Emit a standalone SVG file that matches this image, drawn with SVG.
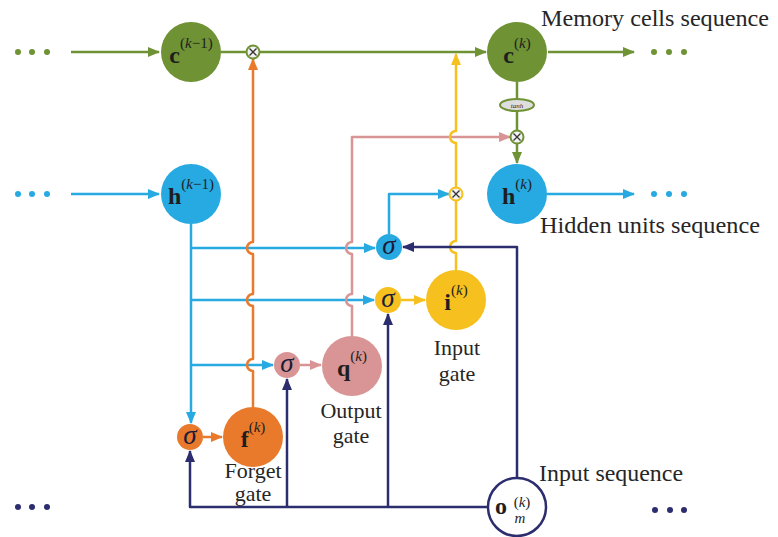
<svg xmlns="http://www.w3.org/2000/svg" width="778" height="537" viewBox="0 0 778 537">
<defs>
<style>
.ln{fill:none;stroke-width:2.5;stroke-linejoin:round}
.g{stroke:#6e9234}.cy{stroke:#27a9e1}.or{stroke:#e97a2c}.pk{stroke:#d99595}.ye{stroke:#f6c11e}.nv{stroke:#2b2d6e}
.lbl{font-family:"Liberation Serif","Times New Roman",serif;fill:#1e1e1e}
.cap{font-family:"Liberation Serif","Times New Roman",serif;font-size:22px;fill:#262626;text-anchor:middle}
.seq{font-family:"Liberation Serif","Times New Roman",serif;font-size:23px;fill:#262626}
.sig{font-family:"Liberation Serif","Times New Roman",serif;font-size:27px;font-style:italic;fill:#1c1c3a;text-anchor:middle}
.nm{font-size:24px;font-weight:bold}
.sup{font-size:15px}
.it{font-style:italic}
</style>
<marker id="aG" markerWidth="12" markerHeight="10" refX="11" refY="5" orient="auto" markerUnits="userSpaceOnUse"><path d="M0,0 L12,5 L0,10 z" fill="#6e9234"/></marker>
<marker id="aC" markerWidth="12" markerHeight="10" refX="11" refY="5" orient="auto" markerUnits="userSpaceOnUse"><path d="M0,0 L12,5 L0,10 z" fill="#27a9e1"/></marker>
<marker id="aO" markerWidth="12" markerHeight="10" refX="11" refY="5" orient="auto" markerUnits="userSpaceOnUse"><path d="M0,0 L12,5 L0,10 z" fill="#e97a2c"/></marker>
<marker id="aP" markerWidth="12" markerHeight="10" refX="11" refY="5" orient="auto" markerUnits="userSpaceOnUse"><path d="M0,0 L12,5 L0,10 z" fill="#d99595"/></marker>
<marker id="aY" markerWidth="12" markerHeight="10" refX="11" refY="5" orient="auto" markerUnits="userSpaceOnUse"><path d="M0,0 L12,5 L0,10 z" fill="#f6c11e"/></marker>
<marker id="aN" markerWidth="12" markerHeight="10" refX="11" refY="5" orient="auto" markerUnits="userSpaceOnUse"><path d="M0,0 L12,5 L0,10 z" fill="#2b2d6e"/></marker>
</defs>
<rect width="778" height="537" fill="#ffffff"/>

<g id="connectors">
<path class="ln g" d="M71,52 L159,52" marker-end="url(#aG)"/>
<path class="ln g" d="M221,52 L246,52"/>
<path class="ln g" d="M260,52 L486,52" marker-end="url(#aG)"/>
<path class="ln g" d="M548,52 L634,52" marker-end="url(#aG)"/>
<path class="ln g" d="M517,82 L517,99"/>
<path class="ln g" d="M517,111 L517,130"/>
<path class="ln g" d="M517,144 L517,163" marker-end="url(#aG)"/>
<path class="ln cy" d="M71,194 L159,194" marker-end="url(#aC)"/>
<path class="ln cy" d="M547,194 L634,194" marker-end="url(#aC)"/>
<path class="ln cy" d="M191,224 L191,423" marker-end="url(#aC)"/>
<path class="ln cy" d="M191,248 L375,248" marker-end="url(#aC)"/>
<path class="ln cy" d="M191,300 L374,300" marker-end="url(#aC)"/>
<path class="ln cy" d="M191,365 L273,365" marker-end="url(#aC)"/>
<path class="ln cy" d="M389,234 L389,194 L449,194" marker-end="url(#aC)"/>
<path class="ln or" d="M203,437 L222,437" marker-end="url(#aO)"/>
<path class="ln or" d="M253,407 L253,371 A6,6 0 0 1 253,359 L253,306 A6,6 0 0 1 253,294 L253,254 A6,6 0 0 1 253,242 L253,59" marker-end="url(#aO)"/>
<path class="ln pk" d="M300,365 L321,365" marker-end="url(#aP)"/>
<path class="ln pk" d="M352,336 L352,306 A6,6 0 0 1 352,294 L352,254 A6,6 0 0 1 352,242 L352,137 L510,137" marker-end="url(#aP)"/>
<path class="ln ye" d="M401,300 L425,300" marker-end="url(#aY)"/>
<path class="ln ye" d="M456,270 L456,253 A6,6 0 0 1 456,241 L456,143 A6,6 0 0 1 456,131 L456,54" marker-end="url(#aY)"/>
<path class="ln nv" d="M488,507 L190,507 L190,451" marker-end="url(#aN)"/>
<path class="ln nv" d="M287,507 L287,379" marker-end="url(#aN)"/>
<path class="ln nv" d="M388,507 L388,314" marker-end="url(#aN)"/>
<path class="ln nv" d="M517,477 L517,247 L403,247" marker-end="url(#aN)"/>
</g>

<g id="dots">
<circle cx="18" cy="52" r="3" fill="#6e9234"/><circle cx="32" cy="52" r="3" fill="#6e9234"/><circle cx="47" cy="52" r="3" fill="#6e9234"/>
<circle cx="654" cy="52" r="3" fill="#6e9234"/><circle cx="669" cy="52" r="3" fill="#6e9234"/><circle cx="684" cy="52" r="3" fill="#6e9234"/>
<circle cx="18" cy="194" r="3" fill="#27a9e1"/><circle cx="32" cy="194" r="3" fill="#27a9e1"/><circle cx="47" cy="194" r="3" fill="#27a9e1"/>
<circle cx="654" cy="194" r="3" fill="#27a9e1"/><circle cx="669" cy="194" r="3" fill="#27a9e1"/><circle cx="684" cy="194" r="3" fill="#27a9e1"/>
<circle cx="18" cy="507" r="3" fill="#2b2d6e"/><circle cx="32" cy="507" r="3" fill="#2b2d6e"/><circle cx="47" cy="507" r="3" fill="#2b2d6e"/>
<circle cx="655" cy="510" r="3" fill="#2b2d6e"/><circle cx="670" cy="510" r="3" fill="#2b2d6e"/><circle cx="684" cy="510" r="3" fill="#2b2d6e"/>
</g>

<g id="c_prev">
<circle cx="191" cy="52" r="30" fill="#6e9234"/>
<text class="lbl" x="191" y="63" text-anchor="middle"><tspan class="nm">c</tspan><tspan class="sup" dy="-15">(<tspan class="it">k</tspan>−1)</tspan></text>
</g>
<g id="c_cur">
<circle cx="517" cy="52" r="30" fill="#6e9234"/>
<text class="lbl" x="517" y="63" text-anchor="middle"><tspan class="nm">c</tspan><tspan class="sup" dy="-15">(<tspan class="it">k</tspan>)</tspan></text>
</g>
<g id="mult_forget">
<circle cx="253" cy="52" r="6.5" fill="#f2f2f2" stroke="#6e9234" stroke-width="2"/>
<path d="M249.5,48.5 L256.5,55.5 M256.5,48.5 L249.5,55.5" stroke="#333" stroke-width="1.3"/>
</g>
<g id="tanh">
<ellipse cx="517" cy="105" rx="17" ry="6" fill="#dedede" stroke="#6e9234" stroke-width="2"/>
<text class="lbl" x="517" y="108" text-anchor="middle" font-size="7" font-style="italic">tanh</text>
</g>
<g id="mult_output">
<circle cx="517" cy="137" r="6.5" fill="#f2f2f2" stroke="#6e9234" stroke-width="2"/>
<path d="M513.5,133.5 L520.5,140.5 M520.5,133.5 L513.5,140.5" stroke="#333" stroke-width="1.3"/>
</g>
<g id="mult_input">
<circle cx="456" cy="194" r="6.5" fill="#f2f2f2" stroke="#f6c11e" stroke-width="2"/>
<path d="M452.5,190.5 L459.5,197.5 M459.5,190.5 L452.5,197.5" stroke="#333" stroke-width="1.3"/>
</g>
<g id="h_prev">
<circle cx="191" cy="194" r="30" fill="#27a9e1"/>
<text class="lbl" x="191" y="204" text-anchor="middle"><tspan class="nm">h</tspan><tspan class="sup" dy="-15">(<tspan class="it">k</tspan>−1)</tspan></text>
</g>
<g id="h_cur">
<circle cx="517" cy="194" r="30" fill="#27a9e1"/>
<text class="lbl" x="517" y="204" text-anchor="middle"><tspan class="nm">h</tspan><tspan class="sup" dy="-15">(<tspan class="it">k</tspan>)</tspan></text>
</g>
<g id="sigma_cell">
<circle cx="389" cy="247" r="13" fill="#27a9e1"/>
<text class="sig" x="389" y="254">σ</text>
</g>
<g id="sigma_input">
<circle cx="388" cy="300" r="13" fill="#f6c11e"/>
<text class="sig" x="388" y="307">σ</text>
</g>
<g id="i_gate">
<circle cx="456" cy="300" r="30" fill="#f6c11e"/>
<text class="lbl" x="456" y="310" text-anchor="middle"><tspan class="nm">i</tspan><tspan class="sup" dy="-15">(<tspan class="it">k</tspan>)</tspan></text>
<text class="cap" x="457" y="355">Input</text>
<text class="cap" x="457" y="381">gate</text>
</g>
<g id="sigma_output">
<circle cx="287" cy="365" r="13" fill="#d99595"/>
<text class="sig" x="287" y="372">σ</text>
</g>
<g id="q_gate">
<circle cx="352" cy="366" r="30" fill="#d99595"/>
<text class="lbl" x="352" y="376" text-anchor="middle"><tspan class="nm">q</tspan><tspan class="sup" dy="-15">(<tspan class="it">k</tspan>)</tspan></text>
<text class="cap" x="351" y="418">Output</text>
<text class="cap" x="351" y="443">gate</text>
</g>
<g id="sigma_forget">
<circle cx="190" cy="437" r="13" fill="#e97a2c"/>
<text class="sig" x="190" y="444">σ</text>
</g>
<g id="f_gate">
<circle cx="253" cy="437" r="30" fill="#e97a2c"/>
<text class="lbl" x="253" y="447" text-anchor="middle"><tspan class="nm">f</tspan><tspan class="sup" dy="-15">(<tspan class="it">k</tspan>)</tspan></text>
<text class="cap" x="253" y="478">Forget</text>
<text class="cap" x="253" y="501">gate</text>
</g>
<g id="o_input">
<circle cx="517" cy="507" r="29" fill="#ffffff" stroke="#2b2d6e" stroke-width="2.5"/>
<text class="lbl nm" x="501" y="514" text-anchor="middle">o</text>
<text class="lbl sup" x="522" y="507" text-anchor="middle">(<tspan class="it">k</tspan>)</text>
<text class="lbl sup it" x="520" y="523" text-anchor="middle">m</text>
</g>

<g id="labels">
<text class="seq" x="541" y="26" textLength="228" lengthAdjust="spacingAndGlyphs">Memory cells sequence</text>
<text class="seq" x="540" y="233" textLength="220" lengthAdjust="spacingAndGlyphs">Hidden units sequence</text>
<text class="seq" x="539" y="481" textLength="144" lengthAdjust="spacingAndGlyphs">Input sequence</text>
</g>
</svg>
